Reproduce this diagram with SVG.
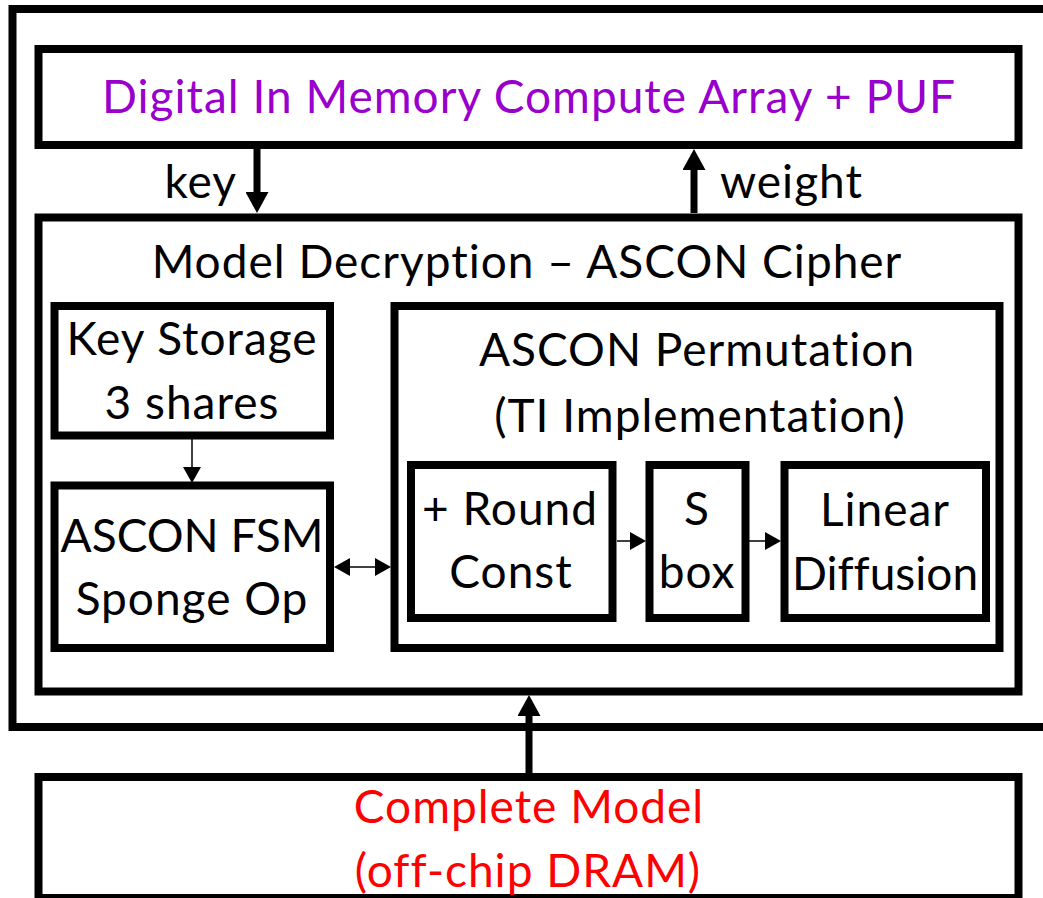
<svg xmlns="http://www.w3.org/2000/svg" width="1043" height="898" viewBox="0 0 1043 898">
  <style>
    .box { fill: #ffffff; stroke: #000000; stroke-width: 8; }
    .frame { fill: none; stroke: #000000; stroke-width: 8; }
    text { font-family: Lato, "Open Sans", "Liberation Sans", sans-serif; font-size: 46px; letter-spacing: 1px; font-variant-ligatures: none; fill: #000000; text-anchor: middle; }
    .tight { letter-spacing: 0; }
    .purple { fill: #9900cc; }
    .red { fill: #ff0000; }
    .bus { stroke: #000000; stroke-width: 7; fill: none; }
    .wire { stroke: #000000; stroke-width: 1.5; fill: none; }
  </style>
  <defs>
    <marker id="headBig" markerUnits="userSpaceOnUse" markerWidth="21" markerHeight="23" viewBox="0 0 21 23" refX="0" refY="11.5" orient="auto">
      <path d="M0,0 L21,11.5 L0,23 z" fill="#000000"/>
    </marker>
    <marker id="headSmall" markerUnits="userSpaceOnUse" markerWidth="16" markerHeight="18" viewBox="0 0 16 18" refX="0" refY="9" orient="auto-start-reverse">
      <path d="M0,0 L16,9 L0,18 z" fill="#000000"/>
    </marker>
  </defs>

  <rect width="1043" height="898" fill="#ffffff"/>

  <!-- chip boundary, open on the right -->
  <rect id="chip" class="frame" x="12.5" y="9" width="1070" height="718"/>

  <g id="dimc">
    <rect class="box" x="38.5" y="49" width="980" height="96"/>
    <text class="purple" x="529" y="113">Digital In Memory Compute Array + PUF</text>
  </g>

  <g id="decryption">
    <rect class="box" x="38.5" y="217.5" width="980" height="474"/>
    <text x="527" y="278">Model Decryption – ASCON Cipher</text>
  </g>

  <g id="key-storage">
    <rect class="box" x="54.5" y="306" width="275.5" height="129.5"/>
    <text x="192" y="355">Key Storage</text>
    <text x="192" y="419">3 shares</text>
  </g>

  <g id="fsm">
    <rect class="box" x="54.5" y="485.5" width="275.5" height="162.5"/>
    <text class="tight" x="192" y="552">ASCON FSM</text>
    <text x="192" y="615">Sponge Op</text>
  </g>

  <g id="permutation">
    <rect class="box" x="394.5" y="306" width="605" height="342"/>
    <text x="697" y="366">ASCON Permutation</text>
    <text x="700" y="432">(TI Implementation)</text>
  </g>

  <g id="round-const">
    <rect class="box" x="411" y="465" width="201.5" height="153"/>
    <text x="510" y="525">+ Round</text>
    <text x="511" y="588">Const</text>
  </g>

  <g id="sbox">
    <rect class="box" x="649.5" y="465" width="96" height="153"/>
    <text x="697" y="525">S</text>
    <text x="697" y="588">box</text>
  </g>

  <g id="linear-diffusion">
    <rect class="box" x="784.5" y="465" width="201.5" height="153"/>
    <text x="885" y="526">Linear</text>
    <text class="tight" x="885" y="590">Diffusion</text>
  </g>

  <g id="dram">
    <rect class="box" x="38.5" y="777" width="980" height="121"/>
    <text class="red" x="529" y="823">Complete Model</text>
    <text class="red" x="528" y="887">(off-chip DRAM)</text>
  </g>

  <g id="connectors">
    <line class="bus" x1="257" y1="149" x2="257" y2="192" marker-end="url(#headBig)"/>
    <line class="bus" x1="694" y1="213" x2="694" y2="170" marker-end="url(#headBig)"/>
    <line class="bus" x1="529" y1="773" x2="529" y2="716" marker-end="url(#headBig)"/>
    <line class="wire" x1="192" y1="439" x2="192" y2="467" marker-end="url(#headSmall)"/>
    <line class="wire" x1="350" y1="567" x2="375" y2="567" marker-start="url(#headSmall)" marker-end="url(#headSmall)"/>
    <line class="wire" x1="617" y1="541" x2="630" y2="541" marker-end="url(#headSmall)"/>
    <line class="wire" x1="749" y1="541" x2="765" y2="541" marker-end="url(#headSmall)"/>
    <text x="237" y="198" style="text-anchor:end">key</text>
    <text x="720" y="198" style="text-anchor:start">weight</text>
  </g>
</svg>
